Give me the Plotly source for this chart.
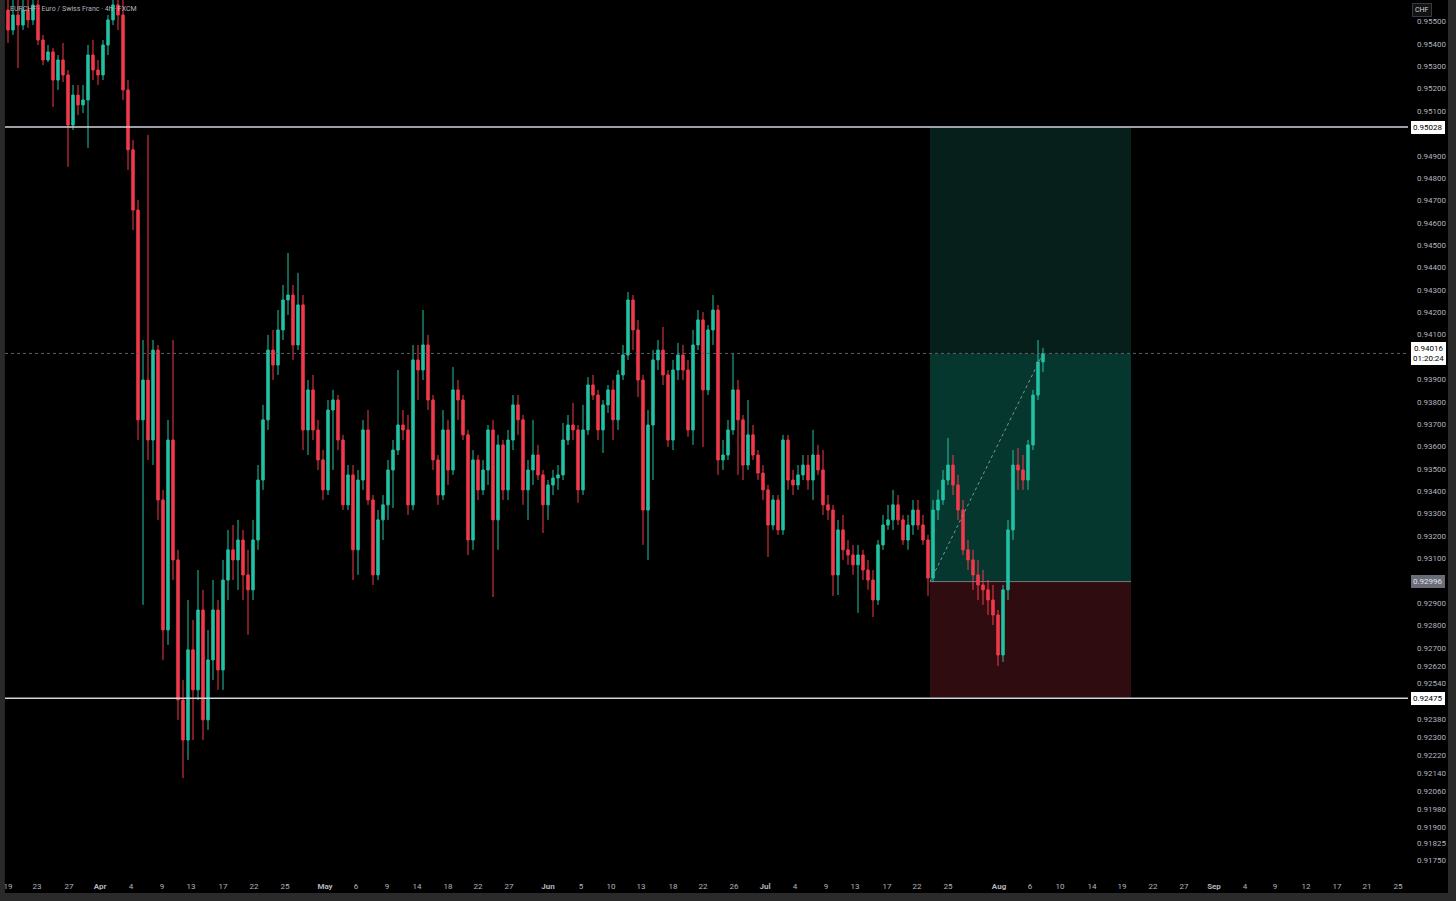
import plotly.graph_objects as go

# ---- data (EURCHF 4h, sampled per candle slot) ----
opens = [.95551,.95462,.95529,.95484,.95551,.95507,.95574,.95417,.95328,.95364,.95238,.95328,.95261,.95037,.95171,.95127,.95149,.95350,.95283,.95261,
.95395,.95507,.95574,.95529,.95194,.94926,.94657,.93719,.93897,.93629,.94031,.93361,.92780,.93629,.93093,.92467,.92288,.92691,.92512,.92869,
.92378,.92646,.92869,.92601,.93003,.93138,.93093,.93182,.93026,.92959,.93182,.93450,.93719,.94031,.93964,.94121,.94255,.94277,.94054,.94233,
.93674,.93853,.93674,.93540,.93406,.93763,.93808,.93629,.93339,.93473,.93138,.93450,.93674,.93361,.93026,.93272,.93339,.93495,.93584,.93696,
.93674,.93339,.93987,.93942,.94054,.93808,.93540,.93383,.93674,.93495,.93853,.93808,.93652,.93182,.93540,.93406,.93495,.93674,.93272,.93607,
.93406,.93629,.93786,.93719,.93406,.93495,.93562,.93473,.93339,.93428,.93459,.93473,.93629,.93696,.93674,.93406,.93674,.93875,.93830,.93674,
.93786,.93853,.93719,.93920,.94009,.94255,.94121,.93897,.93316,.93696,.93987,.94031,.93920,.93629,.93942,.94009,.93942,.93674,.94054,.94166,
.93853,.94121,.94210,.93540,.93562,.93674,.93853,.93719,.93517,.93652,.93562,.93481,.93406,.93249,.93361,.93227,.93629,.93450,.93428,.93473,
.93517,.93450,.93562,.93495,.93339,.93316,.93026,.93227,.93138,.93115,.93071,.93115,.93048,.93003,.92914,.93160,.93249,.93272,.93339,.93272,
.93182,.93249,.93316,.93249,.93182,.93012,.93316,.93361,.93450,.93517,.93428,.93316,.93138,.93093,.93026,.92981,.92959,.92914,.92847,.92668,
.92959,.93227,.93517,.93495,.93450,.93607,.93830,.93978]
highs = [.95641,.95618,.95596,.95618,.95632,.95641,.95596,.95440,.95395,.95381,.95350,.95404,.95283,.95216,.95216,.95216,.95395,.95417,.95328,.95417,
.95529,.95641,.95641,.95641,.95238,.94970,.94702,.94076,.94993,.94076,.94054,.93406,.93719,.94076,.93138,.92556,.92914,.92825,.93048,.92959,
.92780,.93003,.92914,.93093,.93227,.93249,.93272,.93227,.93138,.93272,.93517,.93786,.94099,.94121,.94210,.94322,.94465,.94322,.94376,.94277,
.93897,.93920,.93719,.93584,.93808,.93853,.93830,.93652,.93517,.93517,.93495,.93719,.93763,.93383,.93316,.93383,.93540,.93629,.93942,.93763,
.93741,.94054,.94054,.94210,.94099,.93830,.93562,.93763,.93719,.93955,.93897,.93830,.93674,.93584,.93562,.93540,.93696,.93719,.93652,.93629,
.93674,.93830,.93830,.93741,.93540,.93719,.93607,.93495,.93450,.93495,.93517,.93705,.93741,.93795,.93696,.93786,.93910,.93920,.93853,.93808,
.93875,.93897,.93942,.94054,.94291,.94277,.94166,.93920,.93763,.94031,.94076,.94134,.93942,.93987,.94063,.94054,.93987,.94121,.94210,.94201,
.94143,.94277,.94233,.93629,.93719,.94018,.93897,.93741,.93808,.93696,.93584,.93517,.93428,.93383,.93383,.93652,.93652,.93495,.93517,.93562,
.93562,.93674,.93607,.93584,.93383,.93339,.93272,.93294,.93182,.93160,.93160,.93138,.93093,.93048,.93182,.93294,.93339,.93406,.93383,.93294,
.93294,.93361,.93361,.93294,.93205,.93361,.93406,.93495,.93638,.93562,.93473,.93361,.93182,.93138,.93093,.93048,.93003,.92981,.92869,.92981,
.93272,.93584,.93593,.93562,.93629,.93853,.94076,.94041]
lows = [.95404,.95440,.95292,.95462,.95471,.95484,.95395,.95305,.95319,.95118,.95194,.95229,.94850,.95015,.95082,.95091,.94935,.95238,.95216,.95238,
.95350,.95484,.95462,.95149,.94836,.94568,.93629,.92892,.93540,.93517,.93272,.92646,.92713,.93003,.92378,.92118,.92199,.92288,.92467,.92288,
.92333,.92556,.92512,.92512,.92914,.93003,.92959,.92914,.92758,.92914,.93138,.93406,.93674,.93897,.93920,.94076,.94188,.93987,.94031,.93584,
.93562,.93629,.93495,.93361,.93383,.93495,.93584,.93316,.93316,.93003,.93026,.93406,.93339,.92981,.93003,.93182,.93272,.93325,.93562,.93629,
.93294,.93316,.93808,.93897,.93763,.93495,.93339,.93361,.93428,.93473,.93719,.93629,.93115,.93138,.93361,.93383,.93428,.92927,.93138,.93361,
.93361,.93584,.93652,.93339,.93272,.93428,.93450,.93213,.93272,.93383,.93406,.93450,.93607,.93629,.93348,.93383,.93652,.93808,.93629,.93571,
.93750,.93629,.93674,.93897,.93987,.94031,.93821,.93160,.93093,.93450,.93942,.93875,.93598,.93584,.93897,.93897,.93643,.93607,.94031,.93598,
.93830,.94054,.93473,.93495,.93540,.93652,.93473,.93450,.93495,.93540,.93450,.93361,.93106,.93227,.93205,.93205,.93406,.93383,.93406,.93450,
.93406,.93361,.93473,.93294,.93272,.92932,.92936,.93093,.93071,.93026,.92856,.93003,.92959,.92838,.92892,.93138,.93227,.93227,.93249,.93160,
.93138,.93205,.93227,.93160,.92932,.92994,.93272,.93339,.93428,.93383,.93272,.93115,.93048,.92959,.92914,.92892,.92847,.92802,.92619,.92637,
.92914,.93182,.93406,.93406,.93406,.93584,.93808,.93933]
closes = [.95462,.95529,.95484,.95551,.95507,.95574,.95417,.95328,.95364,.95238,.95328,.95261,.95037,.95171,.95127,.95149,.95350,.95283,.95261,.95395,
.95507,.95574,.95529,.95194,.94926,.94657,.93719,.93897,.93629,.94031,.93361,.92780,.93629,.93093,.92467,.92288,.92691,.92512,.92869,.92378,
.92646,.92869,.92601,.93003,.93138,.93093,.93182,.93026,.92959,.93182,.93450,.93719,.94031,.93964,.94121,.94255,.94277,.94054,.94233,.93674,
.93853,.93674,.93540,.93406,.93763,.93808,.93629,.93339,.93473,.93138,.93450,.93674,.93361,.93026,.93272,.93339,.93495,.93584,.93696,.93674,
.93339,.93987,.93942,.94054,.93808,.93540,.93383,.93674,.93495,.93853,.93808,.93652,.93182,.93540,.93406,.93495,.93674,.93272,.93607,.93406,
.93629,.93786,.93719,.93406,.93495,.93562,.93473,.93339,.93428,.93459,.93473,.93629,.93696,.93674,.93406,.93674,.93875,.93830,.93674,.93786,
.93853,.93719,.93920,.94009,.94255,.94121,.93897,.93316,.93696,.93987,.94031,.93920,.93629,.93942,.94009,.93942,.93674,.94054,.94166,.93853,
.94121,.94210,.93540,.93562,.93674,.93853,.93719,.93517,.93652,.93562,.93481,.93406,.93249,.93361,.93227,.93629,.93450,.93428,.93473,.93517,
.93450,.93562,.93495,.93339,.93316,.93026,.93227,.93138,.93115,.93071,.93115,.93048,.93003,.92914,.93160,.93249,.93272,.93339,.93272,.93182,
.93249,.93316,.93249,.93182,.93012,.93316,.93361,.93450,.93517,.93428,.93316,.93138,.93093,.93026,.92981,.92959,.92914,.92847,.92668,.92959,
.93227,.93517,.93495,.93450,.93607,.93830,.93978,.94016]

tick_labels = ["19","23","27","Apr","4","9","13","17","22","25","May","6","9","14","18","22","27",
               "Jun","5","10","13","18","22","26","Jul","4","9","13","17","22","25","Aug","6","10",
               "14","19","22","27","Sep","4","9","12","17","21","25"]
tick_slots = [0,5.8,12.2,18.4,24.6,30.8,36.6,43,49.2,55.4,63.4,69.6,75.8,81.8,88,94,100.2,
              108,114.6,120.6,126.6,133,139,145.2,151.4,157.4,163.6,169.4,175.8,181.8,188,198.2,204.4,210.4,
              216.8,222.8,229,235.2,241.2,247.4,253.4,259.6,265.8,271.8,278]
months = {"Apr","May","Jun","Jul","Aug","Sep"}

price_ticks = [0.955,0.954,0.953,0.952,0.951,0.949,0.948,0.947,0.946,0.945,0.944,0.943,0.942,0.941,
               0.939,0.938,0.937,0.936,0.935,0.934,0.933,0.932,0.931,0.929,0.928,0.927,0.9262,0.9254,
               0.9238,0.923,0.9222,0.9214,0.9206,0.9198,0.919,0.91825,0.9175]

target_price = 0.95028
entry_price = 0.92996
stop_price = 0.92475
last_price = 0.94016
countdown = "01:20:24"
position_start = 184.4
position_end = 224.6
title_text = "EURCHF · Euro / Swiss Franc · 4h · FXCM"

UP = "#22c3a4"
DOWN = "#f23a4b"
TXT = "#b2b5be"
FONT = "Roboto"
FRAME = "#2a2a2a"

n = len(closes)
xs = list(range(n))

fig = go.Figure()
fig.add_trace(go.Candlestick(
    x=xs, open=opens, high=highs, low=lows, close=closes,
    increasing=dict(line=dict(color=UP, width=1), fillcolor=UP),
    decreasing=dict(line=dict(color=DOWN, width=1), fillcolor=DOWN),
    whiskerwidth=0, hoverinfo="skip", showlegend=False))

shapes = []
# position tool zones
shapes.append(dict(type="rect", xref="x", yref="y", x0=position_start, x1=position_end,
                   y0=last_price, y1=target_price, fillcolor="#071f1a", line_width=0, layer="below"))
shapes.append(dict(type="rect", xref="x", yref="y", x0=position_start, x1=position_end,
                   y0=entry_price, y1=last_price, fillcolor="#06372f", line_width=0, layer="below"))
shapes.append(dict(type="rect", xref="x", yref="y", x0=position_start, x1=position_end,
                   y0=stop_price, y1=entry_price, fillcolor="#2e0c0f", line_width=0, layer="below"))
shapes.append(dict(type="line", xref="x", yref="y", x0=position_start, x1=position_end,
                   y0=entry_price, y1=entry_price, line=dict(color="#787b86", width=1), layer="below"))
# horizontal levels
for lv in (target_price, stop_price):
    shapes.append(dict(type="line", xref="paper", yref="y", x0=0, x1=1, y0=lv, y1=lv,
                       line=dict(color="#d1d4dc", width=1.5)))
# current price dotted line
shapes.append(dict(type="line", xref="paper", yref="y", x0=0, x1=1, y0=last_price, y1=last_price,
                   line=dict(color="#5d606b", width=1, dash="dot")))
# diagonal from entry to current
shapes.append(dict(type="line", xref="x", yref="y", x0=position_start, x1=n - 1,
                   y0=entry_price, y1=last_price, line=dict(color="#8a8d96", width=1, dash="dot")))
# window frame strips (left, right, bottom)
shapes.append(dict(type="rect", xref="paper", yref="paper", x0=-0.0036, x1=-0.0001, y0=-0.03, y1=1,
                   fillcolor=FRAME, line_width=0))
shapes.append(dict(type="rect", xref="paper", yref="paper", x0=1.0285, x1=1.04, y0=-0.03, y1=1,
                   fillcolor=FRAME, line_width=0))
shapes.append(dict(type="rect", xref="paper", yref="paper", x0=-0.01, x1=1.04, y0=-0.03, y1=-0.0148,
                   fillcolor=FRAME, line_width=0))

annotations = []
annotations.append(dict(xref="paper", yref="paper", x=0.002, y=1, xanchor="left", yanchor="top",
                        yshift=-3, text=title_text, showarrow=False,
                        font=dict(family=FONT, size=7, color=TXT)))

def price_label(y, text, bg, fg, border=None):
    return dict(xref="paper", yref="y", x=1, y=y, xanchor="left", yanchor="middle", xshift=3,
                text=text, showarrow=False, bgcolor=bg, bordercolor=border or bg, borderwidth=1,
                borderpad=1, font=dict(family=FONT, size=8, color=fg))

annotations.append(price_label(target_price, "0.95028", "#ffffff", "#000000"))
annotations.append(price_label(last_price, "0.94016<br>" + countdown, "#ffffff", "#000000"))
annotations.append(price_label(entry_price, "0.92996", "#6a6d78", "#e0e3eb"))
annotations.append(price_label(stop_price, "0.92475", "#ffffff", "#000000"))
annotations.append(dict(xref="paper", yref="paper", x=1, y=1, xanchor="left", yanchor="top",
                        xshift=4, yshift=-3, text="CHF", showarrow=False, bgcolor="#131313",
                        bordercolor="#363a45", borderwidth=1, borderpad=2,
                        font=dict(family=FONT, size=7, color="#d1d4dc")))

ticktext = [("<b>%s</b>" % t) if t in months else t for t in tick_labels]

fig.update_layout(
    width=1456, height=901,
    margin=dict(l=5, r=48, t=0, b=21),
    paper_bgcolor="#000000", plot_bgcolor="#000000",
    showlegend=False, hovermode=False,
    shapes=shapes, annotations=annotations,
    xaxis=dict(range=[-0.6, 280], rangeslider=dict(visible=False), showgrid=False, zeroline=False,
               tickmode="array", tickvals=tick_slots, ticktext=ticktext, ticks="",
               tickfont=dict(family=FONT, size=8, color=TXT), showline=False),
    yaxis=dict(range=[0.91662, 0.95596], side="right", showgrid=False, zeroline=False,
               tickmode="array", tickvals=price_ticks, ticktext=["%.5f" % v for v in price_ticks],
               ticks="", ticklabelstandoff=8,
               tickfont=dict(family=FONT, size=8, color=TXT), showline=False),
)

fig.write_html("out.html", config={"displayModeBar": False},
               post_script="document.body.style.margin='0';document.body.style.padding='0';document.body.style.background='#000';")
